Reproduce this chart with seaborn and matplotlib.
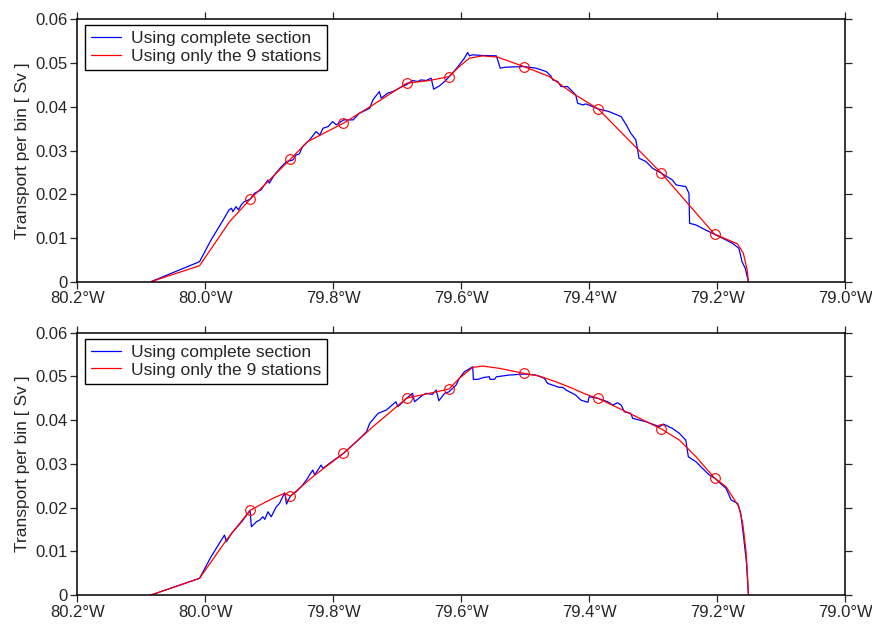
import numpy as np
import pandas as pd
import seaborn as sns
import matplotlib.pyplot as plt

# longitude ticks (degrees east, negative = west)
lon_ticks = [-80.2, -80.0, -79.8, -79.6, -79.4, -79.2, -79.0]
lon_labels = ['80.2°W', '80.0°W', '79.8°W', '79.6°W', '79.4°W', '79.2°W', '79.0°W']
sv_ticks = [0, 0.01, 0.02, 0.03, 0.04, 0.05, 0.06]
sv_labels = ['0', '0.01', '0.02', '0.03', '0.04', '0.05', '0.06']

# --- top panel ---
top_full_lon = [-80.085, -80.009, -79.991, -79.972, -79.963, -79.959, -79.957, -79.952, -79.948, -79.944,
                -79.939, -79.930, -79.923, -79.913, -79.902, -79.900, -79.892, -79.881, -79.873, -79.863,
                -79.858, -79.853, -79.848, -79.837, -79.827, -79.821, -79.816, -79.808, -79.801, -79.795,
                -79.784, -79.769, -79.759, -79.748, -79.743, -79.738, -79.728, -79.725, -79.715, -79.707,
                -79.697, -79.686, -79.676, -79.668, -79.663, -79.655, -79.647, -79.643, -79.634, -79.626,
                -79.616, -79.605, -79.595, -79.590, -79.587, -79.582, -79.566, -79.545, -79.543, -79.539,
                -79.530, -79.502, -79.483, -79.467, -79.460, -79.457, -79.449, -79.444, -79.434, -79.426,
                -79.421, -79.418, -79.410, -79.405, -79.386, -79.369, -79.350, -79.342, -79.335, -79.327,
                -79.322, -79.311, -79.301, -79.287, -79.270, -79.264, -79.249, -79.244, -79.243, -79.233,
                -79.218, -79.204, -79.186, -79.176, -79.166, -79.161, -79.156, -79.151]
top_full_sv = [0.0, 0.00458, 0.00954, 0.01412, 0.01641, 0.01680, 0.01602, 0.01716, 0.01641, 0.01755,
               0.01831, 0.01886, 0.02023, 0.02098, 0.02327, 0.02252, 0.02442, 0.02632, 0.02746, 0.02785,
               0.02899, 0.02922, 0.03089, 0.03243, 0.03432, 0.03357, 0.03510, 0.03547, 0.03661, 0.03586,
               0.03700, 0.03700, 0.03853, 0.03929, 0.03968, 0.04158, 0.04348, 0.04197, 0.04311, 0.04348,
               0.04426, 0.04501, 0.04600, 0.04577, 0.04615, 0.04600, 0.04654, 0.04403, 0.04478, 0.04577,
               0.04730, 0.04920, 0.05112, 0.05240, 0.05165, 0.05188, 0.05172, 0.05165, 0.05073, 0.04883,
               0.04906, 0.04920, 0.04883, 0.04805, 0.04707, 0.04616, 0.04577, 0.04462, 0.04462, 0.04348,
               0.04272, 0.04082, 0.04043, 0.04066, 0.03952, 0.03890, 0.03776, 0.03586, 0.03396, 0.03243,
               0.02824, 0.02746, 0.02595, 0.02481, 0.02327, 0.02213, 0.02174, 0.02023, 0.01336, 0.01297,
               0.01183, 0.01085, 0.00954, 0.00879, 0.00764, 0.00458, 0.00307, 0.0]

top_stn_lon = [-80.085, -80.009, -79.962, -79.930, -79.867, -79.840, -79.784, -79.738, -79.685, -79.650,
               -79.619, -79.603, -79.587, -79.566, -79.543, -79.502, -79.462, -79.426, -79.386, -79.287,
               -79.204, -79.186, -79.168, -79.159, -79.153, -79.151]
top_stn_sv = [0.0, 0.00366, 0.01373, 0.01886, 0.02801, 0.03204, 0.03625, 0.04043, 0.04540, 0.04600,
              0.04691, 0.04920, 0.05112, 0.05165, 0.05135, 0.04920, 0.04691, 0.04311, 0.03952, 0.02481,
              0.01085, 0.00977, 0.00863, 0.00650, 0.00268, 0.0]

top_circ_lon = [-79.930, -79.867, -79.784, -79.685, -79.619, -79.502, -79.386, -79.287, -79.204]
top_circ_sv = [0.01886, 0.02801, 0.03625, 0.04540, 0.04691, 0.04920, 0.03952, 0.02481, 0.01085]

# --- bottom panel ---
bot_full_lon = [-80.085, -80.009, -79.991, -79.970, -79.967, -79.959, -79.952, -79.941, -79.930, -79.928,
                -79.920, -79.915, -79.910, -79.907, -79.902, -79.897, -79.889, -79.884, -79.876, -79.873,
                -79.867, -79.858, -79.850, -79.842, -79.832, -79.829, -79.819, -79.816, -79.806, -79.784,
                -79.764, -79.748, -79.743, -79.730, -79.717, -79.702, -79.699, -79.685, -79.676, -79.673,
                -79.660, -79.655, -79.645, -79.639, -79.635, -79.626, -79.619, -79.608, -79.603, -79.595,
                -79.582, -79.581, -79.574, -79.564, -79.556, -79.555, -79.548, -79.545, -79.525, -79.502,
                -79.483, -79.470, -79.465, -79.447, -79.441, -79.436, -79.421, -79.413, -79.402, -79.400,
                -79.386, -79.371, -79.363, -79.356, -79.350, -79.345, -79.335, -79.332, -79.311, -79.290,
                -79.284, -79.270, -79.259, -79.249, -79.245, -79.233, -79.223, -79.212, -79.204, -79.192,
                -79.186, -79.178, -79.168, -79.163, -79.158, -79.154, -79.151]
bot_full_sv = [0.0, 0.00382, 0.00876, 0.01372, 0.01219, 0.01411, 0.01526, 0.01715, 0.01937, 0.01562,
               0.01677, 0.01715, 0.01791, 0.01731, 0.01905, 0.01791, 0.02020, 0.02097, 0.02340, 0.02081,
               0.02264, 0.02363, 0.02477, 0.02630, 0.02859, 0.02745, 0.02973, 0.02898, 0.03012, 0.03241,
               0.03506, 0.03735, 0.03927, 0.04156, 0.04232, 0.04421, 0.04307, 0.04506, 0.04613, 0.04421,
               0.04575, 0.04613, 0.04591, 0.04689, 0.04444, 0.04613, 0.04650, 0.04803, 0.04957, 0.05107,
               0.05222, 0.04934, 0.04934, 0.04979, 0.04993, 0.04934, 0.04934, 0.04993, 0.05032, 0.05055,
               0.05032, 0.04957, 0.04842, 0.04751, 0.04751, 0.04689, 0.04575, 0.04460, 0.04408, 0.04536,
               0.04499, 0.04421, 0.04346, 0.04398, 0.04346, 0.04193, 0.04156, 0.04042, 0.03964, 0.03850,
               0.03911, 0.03813, 0.03699, 0.03545, 0.03163, 0.03049, 0.02898, 0.02745, 0.02676, 0.02516,
               0.02441, 0.02173, 0.02097, 0.01869, 0.01258, 0.00725, 0.0]

bot_stn_lon = [-80.085, -80.009, -79.967, -79.930, -79.905, -79.889, -79.876, -79.867, -79.832, -79.784,
               -79.738, -79.685, -79.650, -79.619, -79.603, -79.582, -79.566, -79.540, -79.502, -79.478,
               -79.452, -79.426, -79.405, -79.386, -79.337, -79.287, -79.259, -79.233, -79.204, -79.186,
               -79.176, -79.166, -79.160, -79.155, -79.153, -79.151]
bot_stn_sv = [0.0, 0.00382, 0.01258, 0.01937, 0.02134, 0.02248, 0.02326, 0.02264, 0.02706, 0.03241,
              0.03850, 0.04506, 0.04613, 0.04712, 0.04957, 0.05208, 0.05238, 0.05185, 0.05071, 0.05009,
              0.04879, 0.04728, 0.04591, 0.04499, 0.04156, 0.03797, 0.03545, 0.03163, 0.02676, 0.02477,
              0.02248, 0.02020, 0.01640, 0.01029, 0.00572, 0.0]

bot_circ_lon = [-79.930, -79.867, -79.784, -79.685, -79.619, -79.502, -79.386, -79.287, -79.204]
bot_circ_sv = [0.01937, 0.02264, 0.03241, 0.04506, 0.04712, 0.05071, 0.04499, 0.03797, 0.02676]

sns.set_style('ticks')
plt.rcParams['font.family'] = ['Liberation Sans', 'DejaVu Sans']
plt.rcParams['axes.linewidth'] = 1.1

fig = plt.figure(figsize=(8.72, 6.27), dpi=100)
ax1 = fig.add_axes([0.0887, 0.5507, 0.8804, 0.4185])
ax2 = fig.add_axes([0.0887, 0.0510, 0.8804, 0.4183])

panels = [
    (ax1, top_full_lon, top_full_sv, top_stn_lon, top_stn_sv, top_circ_lon, top_circ_sv),
    (ax2, bot_full_lon, bot_full_sv, bot_stn_lon, bot_stn_sv, bot_circ_lon, bot_circ_sv),
]

for ax, flon, fsv, slon, ssv, clon, csv in panels:
    sns.lineplot(x=flon, y=fsv, color='blue', lw=0.9, sort=False, estimator=None,
                 label='Using complete section', ax=ax)
    sns.lineplot(x=slon, y=ssv, color='red', lw=0.9, sort=False, estimator=None,
                 label='Using only the 9 stations', ax=ax)
    ax.plot(clon, csv, linestyle='none', marker='o', ms=7, mfc='none', mec='red', mew=0.8)

    ax.set_xlim(-80.2, -79.0)
    ax.set_ylim(0, 0.06)
    ax.set_xticks(lon_ticks)
    ax.set_xticklabels(lon_labels)
    ax.set_yticks(sv_ticks)
    ax.set_yticklabels(sv_labels)
    ax.tick_params(axis='both', which='both', direction='out', length=5, width=0.9,
                   labelsize=12, top=True, right=True, pad=2)
    for s in ax.spines.values():
        s.set_visible(True)
        s.set_color('black')
    ax.set_xlabel('')
    ax.set_ylabel('Transport per bin [ Sv ]', fontsize=12.5, labelpad=4)

    leg = ax.legend(loc='upper left', bbox_to_anchor=(0.010, 0.978), borderaxespad=0,
                    fontsize=12.5, fancybox=False, framealpha=1, edgecolor='black',
                    handlelength=1.7, handletextpad=0.6, borderpad=0.35, labelspacing=0.15)
    leg.get_frame().set_linewidth(1.0)

fig.savefig('out.png', dpi=100)
